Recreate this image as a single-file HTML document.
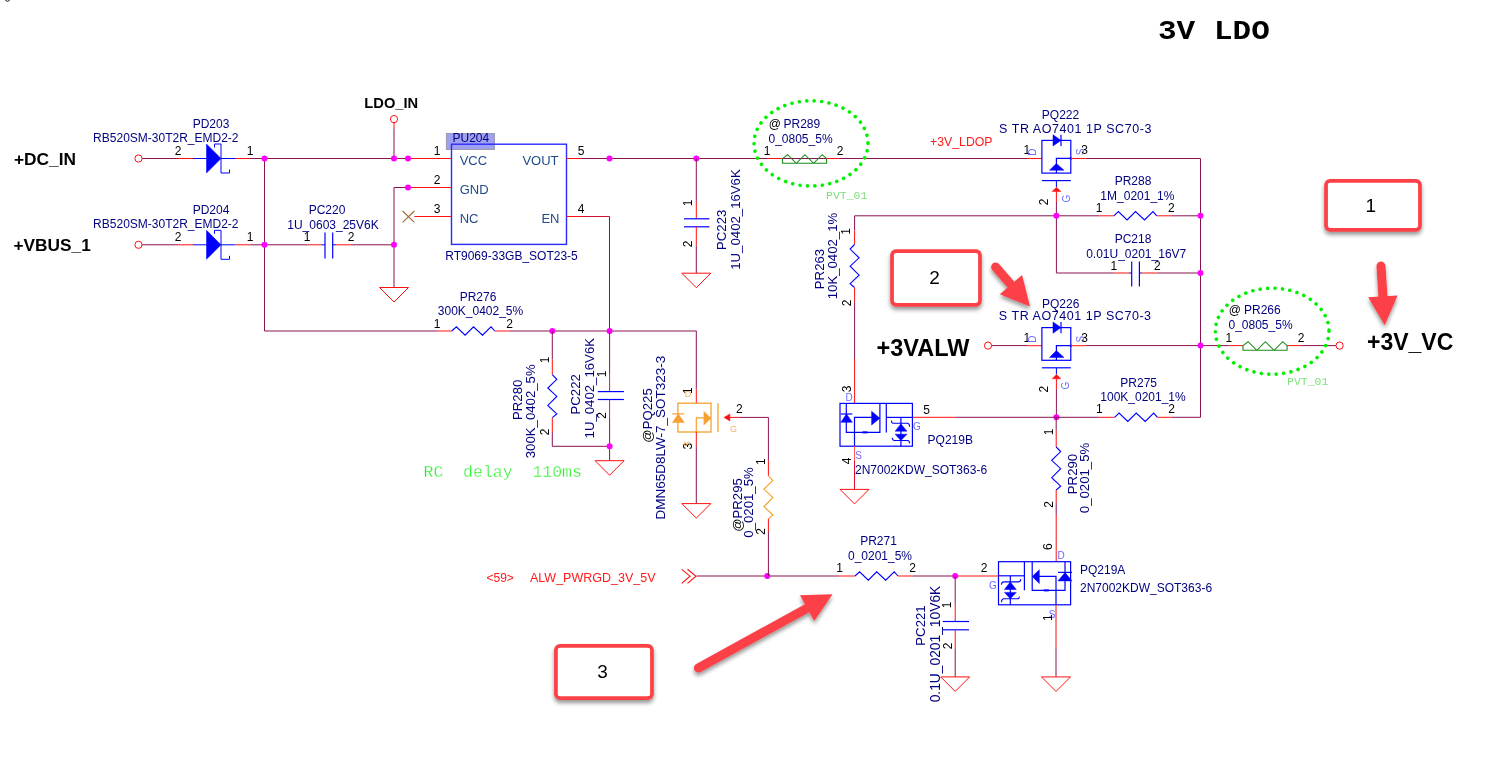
<!DOCTYPE html>
<html><head><meta charset="utf-8"><title>3V LDO</title>
<style>
html,body{margin:0;padding:0;background:#fff;}
body{width:1492px;height:762px;overflow:hidden;}
svg{display:block;font-family:"Liberation Sans",sans-serif;will-change:transform;}
</style></head><body>
<svg width="1492" height="762" viewBox="0 0 1492 762">
<defs><filter id="sh" x="-20%" y="-20%" width="140%" height="150%"><feGaussianBlur in="SourceAlpha" stdDeviation="2.2"/><feOffset dx="-0.5" dy="2.8" result="b"/><feComponentTransfer><feFuncA type="linear" slope="0.42"/></feComponentTransfer><feMerge><feMergeNode/><feMergeNode in="SourceGraphic"/></feMerge></filter></defs>
<rect width="1492" height="762" fill="#fff"/>
<text x="1158" y="39.4" font-size="27.2" fill="#000" text-anchor="start" font-weight="bold" font-family="Liberation Mono" transform="translate(1158 0) scale(1.14 1) translate(-1158 0)" xml:space="preserve">3V</text>
<text x="1214" y="39.4" font-size="27.2" fill="#000" text-anchor="start" font-weight="bold" font-family="Liberation Mono" transform="translate(1214 0) scale(1.14 1) translate(-1214 0)" xml:space="preserve">LDO</text>
<path d="M5.5,0 A2.2,2.2 0 0 0 9.5,0" stroke="#111" stroke-width="1" fill="none" />
<text x="14" y="165.1" font-size="17.3" fill="#000" text-anchor="start" font-weight="bold" xml:space="preserve">+DC_IN</text>
<text x="13.5" y="251.4" font-size="17.3" fill="#000" text-anchor="start" font-weight="bold" xml:space="preserve">+VBUS_1</text>
<text x="364.3" y="108.1" font-size="14.7" fill="#000" text-anchor="start" font-weight="bold" xml:space="preserve">LDO_IN</text>
<text x="876.5" y="355.5" font-size="23.5" fill="#000" text-anchor="start" font-weight="bold" xml:space="preserve">+3VALW</text>
<text x="1367" y="350" font-size="23" fill="#000" text-anchor="start" font-weight="bold" xml:space="preserve">+3V_VC</text>
<circle cx="138.5" cy="158.5" r="3.6" fill="#fff" stroke="#ff1010" stroke-width="1"/>
<line x1="142.1" y1="158.5" x2="178" y2="158.5" stroke="#8b1250" stroke-width="1"/>
<line x1="178" y1="158.5" x2="193" y2="158.5" stroke="#ff1010" stroke-width="1"/>
<line x1="193" y1="158.5" x2="206.5" y2="158.5" stroke="#0000ff" stroke-width="1"/>
<polygon points="206.5,144 206.5,173 221,158.5" fill="#0000ff" stroke="#0000ff" stroke-width="0.5"/>
<path d="M214.5,147.5 V144 H221 V173 H229.5 V169.5" stroke="#0000ff" stroke-width="1" fill="none" />
<line x1="221" y1="158.5" x2="235" y2="158.5" stroke="#0000ff" stroke-width="1"/>
<line x1="235" y1="158.5" x2="250" y2="158.5" stroke="#ff1010" stroke-width="1"/>
<line x1="250" y1="158.5" x2="264.5" y2="158.5" stroke="#8b1250" stroke-width="1"/>
<text x="178" y="155" font-size="12" fill="#000" text-anchor="middle" xml:space="preserve">2</text>
<text x="250" y="155" font-size="12" fill="#000" text-anchor="middle" xml:space="preserve">1</text>
<text x="211" y="128" font-size="12" fill="#000080" text-anchor="middle" xml:space="preserve">PD203</text>
<text x="238.5" y="142" font-size="12" fill="#000080" text-anchor="end" xml:space="preserve">RB520SM-30T2R_EMD2-2</text>
<circle cx="138.5" cy="244.8" r="3.6" fill="#fff" stroke="#ff1010" stroke-width="1"/>
<line x1="142.1" y1="244.8" x2="178" y2="244.8" stroke="#8b1250" stroke-width="1"/>
<line x1="178" y1="244.8" x2="193" y2="244.8" stroke="#ff1010" stroke-width="1"/>
<line x1="193" y1="244.8" x2="206.5" y2="244.8" stroke="#0000ff" stroke-width="1"/>
<polygon points="206.5,230.3 206.5,259.3 221,244.8" fill="#0000ff" stroke="#0000ff" stroke-width="0.5"/>
<path d="M214.5,233.8 V230.3 H221 V259.3 H229.5 V255.8" stroke="#0000ff" stroke-width="1" fill="none" />
<line x1="221" y1="244.8" x2="235" y2="244.8" stroke="#0000ff" stroke-width="1"/>
<line x1="235" y1="244.8" x2="250" y2="244.8" stroke="#ff1010" stroke-width="1"/>
<line x1="250" y1="244.8" x2="264.5" y2="244.8" stroke="#8b1250" stroke-width="1"/>
<text x="178" y="241.3" font-size="12" fill="#000" text-anchor="middle" xml:space="preserve">2</text>
<text x="250" y="241.3" font-size="12" fill="#000" text-anchor="middle" xml:space="preserve">1</text>
<text x="211" y="214.3" font-size="12" fill="#000080" text-anchor="middle" xml:space="preserve">PD204</text>
<text x="238.5" y="228.3" font-size="12" fill="#000080" text-anchor="end" xml:space="preserve">RB520SM-30T2R_EMD2-2</text>
<line x1="264.5" y1="158.5" x2="408" y2="158.5" stroke="#8b1250" stroke-width="1"/>
<line x1="264.5" y1="158.5" x2="264.5" y2="331" stroke="#8b1250" stroke-width="1"/>
<line x1="264.5" y1="244.8" x2="307" y2="244.8" stroke="#8b1250" stroke-width="1"/>
<circle cx="394" cy="119.1" r="3.6" fill="#fff" stroke="#ff1010" stroke-width="1"/>
<line x1="394" y1="122.7" x2="394" y2="129" stroke="#ff1010" stroke-width="1"/>
<line x1="394" y1="129" x2="394" y2="158.5" stroke="#8b1250" stroke-width="1"/>
<rect x="446.3" y="133.4" width="48.3" height="16.1" fill="#a0a0f0" stroke="#9090a0" stroke-width="0.8"/>
<rect x="451.5" y="144.2" width="115" height="100.2" fill="none" stroke="#2a2aff" stroke-width="1.4"/>
<text x="452.5" y="141.7" font-size="12" fill="#000080" text-anchor="start" xml:space="preserve">PU204</text>
<text x="459.7" y="165" font-size="13" fill="#1f4a8a" text-anchor="start" xml:space="preserve">VCC</text>
<text x="459.7" y="194" font-size="13" fill="#1f4a8a" text-anchor="start" xml:space="preserve">GND</text>
<text x="459.7" y="223" font-size="13" fill="#1f4a8a" text-anchor="start" xml:space="preserve">NC</text>
<text x="558.5" y="165" font-size="13" fill="#1f4a8a" text-anchor="end" xml:space="preserve">VOUT</text>
<text x="559.5" y="223" font-size="13" fill="#1f4a8a" text-anchor="end" xml:space="preserve">EN</text>
<text x="511.5" y="260" font-size="12" fill="#000080" text-anchor="middle" xml:space="preserve">RT9069-33GB_SOT23-5</text>
<line x1="408" y1="158.5" x2="451.5" y2="158.5" stroke="#ff1010" stroke-width="1"/>
<line x1="394" y1="187.5" x2="408" y2="187.5" stroke="#8b1250" stroke-width="1"/>
<line x1="408" y1="187.5" x2="451.5" y2="187.5" stroke="#ff1010" stroke-width="1"/>
<line x1="394" y1="187.5" x2="394" y2="287.5" stroke="#8b1250" stroke-width="1"/>
<line x1="414.4" y1="216.5" x2="451.5" y2="216.5" stroke="#ff1010" stroke-width="1"/>
<path d="M402.6,211 L414.4,222.4 M402.6,222.4 L414.4,211" stroke="#a06a30" stroke-width="1.1" fill="none" />
<line x1="566.5" y1="158.5" x2="581" y2="158.5" stroke="#ff1010" stroke-width="1"/>
<line x1="581" y1="158.5" x2="1027" y2="158.5" stroke="#8b1250" stroke-width="1"/>
<line x1="566.5" y1="216.5" x2="582" y2="216.5" stroke="#ff1010" stroke-width="1"/>
<line x1="582" y1="216.5" x2="609.5" y2="216.5" stroke="#d01030" stroke-width="1"/>
<line x1="609.5" y1="216.5" x2="609.5" y2="331" stroke="#8b1250" stroke-width="1"/>
<text x="437" y="154.5" font-size="12" fill="#000" text-anchor="middle" xml:space="preserve">1</text>
<text x="437" y="183.5" font-size="12" fill="#000" text-anchor="middle" xml:space="preserve">2</text>
<text x="437" y="212.5" font-size="12" fill="#000" text-anchor="middle" xml:space="preserve">3</text>
<text x="581" y="154.5" font-size="12" fill="#000" text-anchor="middle" xml:space="preserve">5</text>
<text x="581" y="212.5" font-size="12" fill="#000" text-anchor="middle" xml:space="preserve">4</text>
<circle cx="264.5" cy="158.5" r="3" fill="#ff00ff"/>
<circle cx="394" cy="158.5" r="3" fill="#ff00ff"/>
<circle cx="408" cy="158.5" r="3" fill="#ff00ff"/>
<circle cx="408" cy="187.5" r="3" fill="#ff00ff"/>
<polyline points="379.5,287.5 408.5,287.5 394,302 379.5,287.5" stroke="#ff1010" stroke-width="1" fill="none" stroke-linejoin="miter"/>
<line x1="307" y1="244.8" x2="322" y2="244.8" stroke="#ff1010" stroke-width="1"/>
<line x1="322" y1="244.8" x2="325" y2="244.8" stroke="#0000ff" stroke-width="1"/>
<line x1="325" y1="232.4" x2="325" y2="258.4" stroke="#0000ff" stroke-width="1.2"/>
<line x1="332.7" y1="232.4" x2="332.7" y2="258.4" stroke="#0000ff" stroke-width="1.2"/>
<line x1="332.7" y1="244.8" x2="336" y2="244.8" stroke="#0000ff" stroke-width="1"/>
<line x1="336" y1="244.8" x2="351" y2="244.8" stroke="#ff1010" stroke-width="1"/>
<line x1="351" y1="244.8" x2="394" y2="244.8" stroke="#8b1250" stroke-width="1"/>
<text x="307" y="240.8" font-size="12" fill="#000" text-anchor="middle" xml:space="preserve">1</text>
<text x="351" y="240.8" font-size="12" fill="#000" text-anchor="middle" xml:space="preserve">2</text>
<text x="327" y="213.7" font-size="12" fill="#000080" text-anchor="middle" xml:space="preserve">PC220</text>
<text x="333" y="228.5" font-size="12" fill="#000080" text-anchor="middle" xml:space="preserve">1U_0603_25V6K</text>
<circle cx="264.5" cy="244.8" r="3" fill="#ff00ff"/>
<circle cx="394" cy="244.8" r="3" fill="#ff00ff"/>
<line x1="264.5" y1="331" x2="437" y2="331" stroke="#8b1250" stroke-width="1"/>
<line x1="437" y1="331" x2="451.8" y2="331" stroke="#ff1010" stroke-width="1"/>
<polyline points="451.8,331 456.4,326.8 465.1,335.2 473.5,326.8 482.5,335.2 491,326.8 494.8,331" stroke="#0000ff" stroke-width="1.1" fill="none" stroke-linejoin="miter"/>
<line x1="494.8" y1="331" x2="509.6" y2="331" stroke="#ff1010" stroke-width="1"/>
<line x1="509.6" y1="331" x2="696.3" y2="331" stroke="#8b1250" stroke-width="1"/>
<text x="437" y="327.5" font-size="12" fill="#000" text-anchor="middle" xml:space="preserve">1</text>
<text x="509.6" y="327.5" font-size="12" fill="#000" text-anchor="middle" xml:space="preserve">2</text>
<text x="478" y="300.5" font-size="12" fill="#000080" text-anchor="middle" xml:space="preserve">PR276</text>
<text x="480.5" y="315" font-size="12" fill="#000080" text-anchor="middle" xml:space="preserve">300K_0402_5%</text>
<circle cx="552.3" cy="331" r="3" fill="#ff00ff"/>
<circle cx="609.6" cy="331" r="3" fill="#ff00ff"/>
<line x1="552.3" y1="331" x2="552.3" y2="359.4" stroke="#8b1250" stroke-width="1"/>
<line x1="552.3" y1="359.4" x2="552.3" y2="374.7" stroke="#ff1010" stroke-width="1"/>
<polyline points="552.3,374.7 556.8,379.3 547.8,388 556.8,396.4 547.8,405.4 556.8,413.9 552.3,417.7" stroke="#0000ff" stroke-width="1.1" fill="none" stroke-linejoin="miter"/>
<line x1="552.3" y1="417.7" x2="552.3" y2="432" stroke="#ff1010" stroke-width="1"/>
<line x1="552.3" y1="432" x2="552.3" y2="446.3" stroke="#8b1250" stroke-width="1"/>
<line x1="552.3" y1="446.3" x2="609.6" y2="446.3" stroke="#8b1250" stroke-width="1"/>
<text x="549" y="360" font-size="12" fill="#000" text-anchor="middle" transform="rotate(-90 549 360)" xml:space="preserve">1</text>
<text x="549" y="432" font-size="12" fill="#000" text-anchor="middle" transform="rotate(-90 549 432)" xml:space="preserve">2</text>
<text x="522.5" y="399.8" font-size="13.2" fill="#000080" text-anchor="middle" transform="rotate(-90 522.5 399.8)" xml:space="preserve">PR280</text>
<text x="534.8" y="411.3" font-size="13.2" fill="#000080" text-anchor="middle" transform="rotate(-90 534.8 411.3)" xml:space="preserve">300K_0402_5%</text>
<line x1="609.6" y1="331" x2="609.6" y2="374.1" stroke="#8b1250" stroke-width="1"/>
<line x1="609.6" y1="374.1" x2="609.6" y2="391.6" stroke="#ff1010" stroke-width="1"/>
<line x1="597.8" y1="391.6" x2="623.9" y2="391.6" stroke="#0000ff" stroke-width="1.2"/>
<line x1="597.8" y1="399.5" x2="623.9" y2="399.5" stroke="#0000ff" stroke-width="1.2"/>
<line x1="609.6" y1="399.5" x2="609.6" y2="417.3" stroke="#ff1010" stroke-width="1"/>
<line x1="609.6" y1="417.3" x2="609.6" y2="460.7" stroke="#8b1250" stroke-width="1"/>
<text x="606" y="374" font-size="12" fill="#000" text-anchor="middle" transform="rotate(-90 606 374)" xml:space="preserve">1</text>
<text x="606" y="415.4" font-size="12" fill="#000" text-anchor="middle" transform="rotate(-90 606 415.4)" xml:space="preserve">2</text>
<text x="579.8" y="394.3" font-size="13.2" fill="#000080" text-anchor="middle" transform="rotate(-90 579.8 394.3)" xml:space="preserve">PC222</text>
<text x="593.6" y="388.2" font-size="13.2" fill="#000080" text-anchor="middle" transform="rotate(-90 593.6 388.2)" xml:space="preserve">1U_0402_16V6K</text>
<circle cx="609.6" cy="446.3" r="3" fill="#ff00ff"/>
<polyline points="595.1,460.7 624.1,460.7 609.6,475.2 595.1,460.7" stroke="#ff1010" stroke-width="1" fill="none" stroke-linejoin="miter"/>
<text x="423.5" y="476.5" font-size="16.5" fill="#22f022" text-anchor="start" font-family="Liberation Mono" stroke="#fff" stroke-width="0.35" xml:space="preserve">RC  delay  110ms</text>
<circle cx="609.5" cy="158.5" r="3" fill="#ff00ff"/>
<circle cx="696.3" cy="158.5" r="3" fill="#ff00ff"/>
<line x1="696.3" y1="158.5" x2="696.3" y2="201.6" stroke="#8b1250" stroke-width="1"/>
<line x1="696.3" y1="201.6" x2="696.3" y2="218.8" stroke="#ff1010" stroke-width="1"/>
<line x1="684" y1="218.8" x2="709.5" y2="218.8" stroke="#0000ff" stroke-width="1.2"/>
<line x1="684" y1="226.8" x2="709.5" y2="226.8" stroke="#0000ff" stroke-width="1.2"/>
<line x1="696.3" y1="226.8" x2="696.3" y2="245.6" stroke="#ff1010" stroke-width="1"/>
<line x1="696.3" y1="245.6" x2="696.3" y2="273.2" stroke="#8b1250" stroke-width="1"/>
<polyline points="681.8,273.2 710.8,273.2 696.3,287.7 681.8,273.2" stroke="#ff1010" stroke-width="1" fill="none" stroke-linejoin="miter"/>
<text x="692" y="203" font-size="12" fill="#000" text-anchor="middle" transform="rotate(-90 692 203)" xml:space="preserve">1</text>
<text x="692" y="244" font-size="12" fill="#000" text-anchor="middle" transform="rotate(-90 692 244)" xml:space="preserve">2</text>
<text x="726" y="229.8" font-size="13.2" fill="#000080" text-anchor="middle" transform="rotate(-90 726 229.8)" xml:space="preserve">PC223</text>
<text x="739.5" y="219.5" font-size="13.2" fill="#000080" text-anchor="middle" transform="rotate(-90 739.5 219.5)" xml:space="preserve">1U_0402_16V6K</text>
<line x1="767.3" y1="158.5" x2="782.5" y2="158.5" stroke="#ff1010" stroke-width="1"/>
<path d="M782.5,158.6 V163.3 H826.6 V158.6 M782.5,158.6 L787.6,154.7 L796.3,163.3 L804.9,154.7 L813.6,163.3 L822.2,154.7 L826.6,158.6" stroke="#1f8a1f" stroke-width="1.1" fill="none" />
<line x1="826.6" y1="158.5" x2="840" y2="158.5" stroke="#ff1010" stroke-width="1"/>
<line x1="840" y1="158.5" x2="1027" y2="158.5" stroke="#8b1250" stroke-width="1"/>
<text x="767" y="154.5" font-size="12" fill="#000" text-anchor="middle" xml:space="preserve">1</text>
<text x="840" y="154.5" font-size="12" fill="#000" text-anchor="middle" xml:space="preserve">2</text>
<text x="768.8" y="127.8" font-size="12" fill="#000" text-anchor="start" xml:space="preserve">@</text>
<text x="783.5" y="127.8" font-size="12" fill="#000080" text-anchor="start" xml:space="preserve">PR289</text>
<text x="768.5" y="142.5" font-size="12" fill="#000080" text-anchor="start" xml:space="preserve">0_0805_5%</text>
<ellipse cx="811" cy="143.4" rx="57" ry="42.6" fill="none" stroke="#00f000" stroke-width="3.6" stroke-dasharray="0.01 7.45" stroke-linecap="round"/>
<text x="826" y="199" font-size="11.5" fill="#7de07d" text-anchor="start" font-family="Liberation Mono" xml:space="preserve">PVT_01</text>
<text x="930" y="145.8" font-size="12.3" fill="#ff1a1a" text-anchor="start" xml:space="preserve">+3V_LDOP</text>
<line x1="1027" y1="158.5" x2="1041.9" y2="158.5" stroke="#ff1010" stroke-width="1"/>
<rect x="1041.9" y="140.4" width="28.9" height="32.7" fill="none" stroke="#0000ff" stroke-width="1.2"/>
<polygon points="1053,134.7 1053,146 1061,140.4" fill="#0000ff" stroke="#0000ff" stroke-width="0.5"/>
<line x1="1061" y1="134.7" x2="1061" y2="146" stroke="#0000ff" stroke-width="1.2"/>
<path d="M1070.8,158.4 H1056.4 V173.1" stroke="#0000ff" stroke-width="1.2" fill="none" />
<polygon points="1049.5,170.2 1064,170.2 1056.4,163.4" fill="#0000ff" stroke="#0000ff" stroke-width="0.5"/>
<circle cx="1070.8" cy="158.4" r="1.2" fill="#0000ff"/>
<line x1="1041.9" y1="180.6" x2="1070.8" y2="180.6" stroke="#0000ff" stroke-width="1.2"/>
<line x1="1056.4" y1="180.6" x2="1056.4" y2="187.3" stroke="#0000ff" stroke-width="1"/>
<polygon points="1052.2,191.5 1060.9,191.5 1056.4,187.3" fill="#ff1010" stroke="#ff1010" stroke-width="0.5"/>
<line x1="1056.4" y1="191.5" x2="1056.4" y2="202" stroke="#ff1010" stroke-width="1"/>
<line x1="1070.8" y1="158.5" x2="1085.7" y2="158.5" stroke="#ff1010" stroke-width="1"/>
<text x="1048" y="202" font-size="12" fill="#000" text-anchor="middle" transform="rotate(-90 1048 202)" xml:space="preserve">2</text>
<text x="1026.8" y="154.4" font-size="12" fill="#000" text-anchor="middle" xml:space="preserve">1</text>
<text x="1084.7" y="154.4" font-size="12" fill="#000" text-anchor="middle" xml:space="preserve">3</text>
<text x="1036.3" y="152" font-size="10" fill="#6a6aff" text-anchor="middle" transform="rotate(-90 1036.3 152)" xml:space="preserve">D</text>
<text x="1084" y="152" font-size="10" fill="#6a6aff" text-anchor="middle" transform="rotate(-90 1084 152)" xml:space="preserve">S</text>
<text x="1069.5" y="198.5" font-size="10" fill="#6a6aff" text-anchor="middle" transform="rotate(-90 1069.5 198.5)" xml:space="preserve">G</text>
<text x="1060.5" y="119.3" font-size="12" fill="#000080" text-anchor="middle" xml:space="preserve">PQ222</text>
<text x="1075.5" y="132.8" font-size="12.5" fill="#000080" text-anchor="middle" letter-spacing="0.55" xml:space="preserve">S TR AO7401 1P SC70-3</text>
<line x1="1027" y1="345.7" x2="1041.9" y2="345.7" stroke="#ff1010" stroke-width="1"/>
<rect x="1041.9" y="327.6" width="28.9" height="32.7" fill="none" stroke="#0000ff" stroke-width="1.2"/>
<polygon points="1053,321.9 1053,333.2 1061,327.6" fill="#0000ff" stroke="#0000ff" stroke-width="0.5"/>
<line x1="1061" y1="321.9" x2="1061" y2="333.2" stroke="#0000ff" stroke-width="1.2"/>
<path d="M1070.8,345.6 H1056.4 V360.3" stroke="#0000ff" stroke-width="1.2" fill="none" />
<polygon points="1049.5,357.4 1064,357.4 1056.4,350.6" fill="#0000ff" stroke="#0000ff" stroke-width="0.5"/>
<circle cx="1070.8" cy="345.6" r="1.2" fill="#0000ff"/>
<line x1="1041.9" y1="367.8" x2="1070.8" y2="367.8" stroke="#0000ff" stroke-width="1.2"/>
<line x1="1056.4" y1="367.8" x2="1056.4" y2="374.5" stroke="#0000ff" stroke-width="1"/>
<polygon points="1052.2,378.7 1060.9,378.7 1056.4,374.5" fill="#ff1010" stroke="#ff1010" stroke-width="0.5"/>
<line x1="1056.4" y1="378.7" x2="1056.4" y2="389.2" stroke="#ff1010" stroke-width="1"/>
<line x1="1070.8" y1="345.7" x2="1085.7" y2="345.7" stroke="#ff1010" stroke-width="1"/>
<text x="1048" y="389.2" font-size="12" fill="#000" text-anchor="middle" transform="rotate(-90 1048 389.2)" xml:space="preserve">2</text>
<text x="1026.8" y="341.6" font-size="12" fill="#000" text-anchor="middle" xml:space="preserve">1</text>
<text x="1084.7" y="341.6" font-size="12" fill="#000" text-anchor="middle" xml:space="preserve">3</text>
<text x="1036.3" y="339.2" font-size="10" fill="#6a6aff" text-anchor="middle" transform="rotate(-90 1036.3 339.2)" xml:space="preserve">D</text>
<text x="1084" y="339.2" font-size="10" fill="#6a6aff" text-anchor="middle" transform="rotate(-90 1084 339.2)" xml:space="preserve">S</text>
<text x="1069.5" y="385.7" font-size="10" fill="#6a6aff" text-anchor="middle" transform="rotate(-90 1069.5 385.7)" xml:space="preserve">G</text>
<text x="1060.7" y="308" font-size="12" fill="#000080" text-anchor="middle" xml:space="preserve">PQ226</text>
<text x="1075.2" y="320.2" font-size="12.5" fill="#000080" text-anchor="middle" letter-spacing="0.55" xml:space="preserve">S TR AO7401 1P SC70-3</text>
<line x1="1085.7" y1="158.5" x2="1200.5" y2="158.5" stroke="#8b1250" stroke-width="1"/>
<line x1="1200.5" y1="158.5" x2="1200.5" y2="417.3" stroke="#8b1250" stroke-width="1"/>
<line x1="854.6" y1="215.8" x2="1099.2" y2="215.8" stroke="#8b1250" stroke-width="1"/>
<line x1="1056.4" y1="202" x2="1056.4" y2="273" stroke="#8b1250" stroke-width="1"/>
<line x1="1099.2" y1="215.8" x2="1113.8" y2="215.8" stroke="#ff1010" stroke-width="1"/>
<polyline points="1113.8,215.8 1118.4,211.6 1127.1,220 1135.5,211.6 1144.5,220 1153,211.6 1156.8,215.8" stroke="#0000ff" stroke-width="1.1" fill="none" stroke-linejoin="miter"/>
<line x1="1156.8" y1="215.8" x2="1171.4" y2="215.8" stroke="#ff1010" stroke-width="1"/>
<line x1="1171.4" y1="215.8" x2="1200.5" y2="215.8" stroke="#8b1250" stroke-width="1"/>
<text x="1099.2" y="211.5" font-size="12" fill="#000" text-anchor="middle" xml:space="preserve">1</text>
<text x="1171.4" y="211.5" font-size="12" fill="#000" text-anchor="middle" xml:space="preserve">2</text>
<text x="1133" y="185" font-size="12" fill="#000080" text-anchor="middle" xml:space="preserve">PR288</text>
<text x="1137.4" y="200" font-size="12" fill="#000080" text-anchor="middle" xml:space="preserve">1M_0201_1%</text>
<circle cx="1056.4" cy="215.8" r="3" fill="#ff00ff"/>
<circle cx="1200.5" cy="215.8" r="3" fill="#ff00ff"/>
<line x1="1056.4" y1="273" x2="1113.8" y2="273" stroke="#8b1250" stroke-width="1"/>
<line x1="1113.8" y1="273" x2="1129" y2="273" stroke="#ff1010" stroke-width="1"/>
<line x1="1129" y1="273" x2="1131.7" y2="273" stroke="#0000ff" stroke-width="1"/>
<line x1="1131.7" y1="261.4" x2="1131.7" y2="286.5" stroke="#0000ff" stroke-width="1.2"/>
<line x1="1139.4" y1="261.4" x2="1139.4" y2="286.5" stroke="#0000ff" stroke-width="1.2"/>
<line x1="1139.4" y1="273" x2="1142" y2="273" stroke="#0000ff" stroke-width="1"/>
<line x1="1142" y1="273" x2="1157.3" y2="273" stroke="#ff1010" stroke-width="1"/>
<line x1="1157.3" y1="273" x2="1200.5" y2="273" stroke="#8b1250" stroke-width="1"/>
<text x="1113.8" y="269.6" font-size="12" fill="#000" text-anchor="middle" xml:space="preserve">1</text>
<text x="1157.3" y="269.6" font-size="12" fill="#000" text-anchor="middle" xml:space="preserve">2</text>
<text x="1133" y="243" font-size="12" fill="#000080" text-anchor="middle" xml:space="preserve">PC218</text>
<text x="1136.2" y="257.6" font-size="12" fill="#000080" text-anchor="middle" xml:space="preserve">0.01U_0201_16V7</text>
<circle cx="1200.5" cy="273" r="3" fill="#ff00ff"/>
<circle cx="988" cy="345.6" r="3.6" fill="#fff" stroke="#ff1010" stroke-width="1"/>
<line x1="991.6" y1="345.6" x2="1027" y2="345.6" stroke="#8b1250" stroke-width="1"/>
<line x1="1085.7" y1="345.6" x2="1228.8" y2="345.6" stroke="#8b1250" stroke-width="1"/>
<circle cx="1200.5" cy="345.6" r="3" fill="#ff00ff"/>
<line x1="1056.4" y1="389.2" x2="1056.4" y2="417.3" stroke="#8b1250" stroke-width="1"/>
<circle cx="1056.4" cy="417.3" r="3" fill="#ff00ff"/>
<line x1="1228.8" y1="345.6" x2="1243" y2="345.6" stroke="#ff1010" stroke-width="1"/>
<path d="M1243,345.6 V350.3 H1287.1 V345.6 M1243,345.6 L1248.1,341.7 L1256.8,350.3 L1265.4,341.7 L1274.1,350.3 L1282.7,341.7 L1287.1,345.6" stroke="#1f8a1f" stroke-width="1.1" fill="none" />
<line x1="1287" y1="345.6" x2="1301.2" y2="345.6" stroke="#ff1010" stroke-width="1"/>
<line x1="1301.2" y1="345.6" x2="1336" y2="345.6" stroke="#8b1250" stroke-width="1"/>
<circle cx="1339.6" cy="345.6" r="3.6" fill="#fff" stroke="#ff1010" stroke-width="1"/>
<text x="1228.8" y="341.5" font-size="12" fill="#000" text-anchor="middle" xml:space="preserve">1</text>
<text x="1301.2" y="341.5" font-size="12" fill="#000" text-anchor="middle" xml:space="preserve">2</text>
<text x="1228.8" y="314.3" font-size="12" fill="#000" text-anchor="start" xml:space="preserve">@</text>
<text x="1244" y="314.3" font-size="12" fill="#000080" text-anchor="start" xml:space="preserve">PR266</text>
<text x="1228.5" y="329.2" font-size="12" fill="#000080" text-anchor="start" xml:space="preserve">0_0805_5%</text>
<ellipse cx="1272.2" cy="331.2" rx="56.8" ry="43" fill="none" stroke="#00f000" stroke-width="3.6" stroke-dasharray="0.01 7.45" stroke-linecap="round"/>
<text x="1287" y="385.3" font-size="11.5" fill="#7de07d" text-anchor="start" font-family="Liberation Mono" xml:space="preserve">PVT_01</text>
<line x1="912.4" y1="417.3" x2="956" y2="417.3" stroke="#ff1010" stroke-width="1"/>
<line x1="956" y1="417.3" x2="1099.3" y2="417.3" stroke="#8b1250" stroke-width="1"/>
<line x1="1099.3" y1="417.3" x2="1114.5" y2="417.3" stroke="#ff1010" stroke-width="1"/>
<polyline points="1114.5,417.3 1119.1,413.1 1127.8,421.5 1136.2,413.1 1145.2,421.5 1153.7,413.1 1157.5,417.3" stroke="#0000ff" stroke-width="1.1" fill="none" stroke-linejoin="miter"/>
<line x1="1157.5" y1="417.3" x2="1171.7" y2="417.3" stroke="#ff1010" stroke-width="1"/>
<line x1="1171.7" y1="417.3" x2="1200.5" y2="417.3" stroke="#8b1250" stroke-width="1"/>
<text x="1099.3" y="413.3" font-size="12" fill="#000" text-anchor="middle" xml:space="preserve">1</text>
<text x="1171.7" y="413.3" font-size="12" fill="#000" text-anchor="middle" xml:space="preserve">2</text>
<text x="1138.7" y="386.5" font-size="12" fill="#000080" text-anchor="middle" xml:space="preserve">PR275</text>
<text x="1143" y="400.7" font-size="12" fill="#000080" text-anchor="middle" xml:space="preserve">100K_0201_1%</text>
<text x="926.5" y="413.7" font-size="12" fill="#000" text-anchor="middle" xml:space="preserve">5</text>
<line x1="854.6" y1="215.8" x2="854.6" y2="230.3" stroke="#8b1250" stroke-width="1"/>
<line x1="854.6" y1="230.3" x2="854.6" y2="244.5" stroke="#ff1010" stroke-width="1"/>
<polyline points="854.6,244.5 850.1,249.1 859.1,257.8 850.1,266.2 859.1,275.2 850.1,283.7 854.6,287.5" stroke="#0000ff" stroke-width="1.1" fill="none" stroke-linejoin="miter"/>
<line x1="854.6" y1="287.5" x2="854.6" y2="302.3" stroke="#ff1010" stroke-width="1"/>
<line x1="854.6" y1="302.3" x2="854.6" y2="359" stroke="#8b1250" stroke-width="1"/>
<line x1="854.6" y1="359" x2="854.6" y2="403.4" stroke="#ff1010" stroke-width="1"/>
<text x="850.5" y="231.4" font-size="12" fill="#000" text-anchor="middle" transform="rotate(-90 850.5 231.4)" xml:space="preserve">1</text>
<text x="850.5" y="303" font-size="12" fill="#000" text-anchor="middle" transform="rotate(-90 850.5 303)" xml:space="preserve">2</text>
<text x="851" y="389" font-size="12" fill="#000" text-anchor="middle" transform="rotate(-90 851 389)" xml:space="preserve">3</text>
<text x="823.8" y="269" font-size="13.2" fill="#000080" text-anchor="middle" transform="rotate(-90 823.8 269)" xml:space="preserve">PR263</text>
<text x="837" y="256" font-size="13.2" fill="#000080" text-anchor="middle" transform="rotate(-90 837 256)" xml:space="preserve">10K_0402_1%</text>
<rect x="840" y="403.4" width="72.4" height="42.8" fill="none" stroke="#0000ff" stroke-width="1.2"/>
<path d="M846.3,403.4 V432.4 H879.9 V403.4" stroke="#0000ff" stroke-width="1.2" fill="none" />
<line x1="840.8" y1="414" x2="852.3" y2="414" stroke="#0000ff" stroke-width="1.2"/>
<polygon points="840.8,422.3 852.3,422.3 846.5,414" fill="#0000ff" stroke="#0000ff" stroke-width="0.5"/>
<path d="M854.5,446.2 V417.4 H872" stroke="#0000ff" stroke-width="1.2" fill="none" />
<polygon points="871.6,411.3 871.6,425.1 879.9,418.2" fill="#0000ff" stroke="#0000ff" stroke-width="0.5"/>
<line x1="886.3" y1="403.4" x2="886.3" y2="432.4" stroke="#0000ff" stroke-width="1.2"/>
<line x1="886.3" y1="417.4" x2="912.4" y2="417.4" stroke="#0000ff" stroke-width="1.2"/>
<line x1="900.9" y1="417.5" x2="900.9" y2="446.6" stroke="#0000ff" stroke-width="1.2"/>
<path d="M891.4,420.5 Q891.6,423.2 893,423.2 H907.5 Q909.4,423.2 909.6,426.7" stroke="#0000ff" stroke-width="1.1" fill="none" />
<polygon points="895.1,431.2 907,431.2 900.9,423.9" fill="#0000ff" stroke="#0000ff" stroke-width="0.5"/>
<polygon points="895.1,434.2 907,434.2 900.9,440.5" fill="#0000ff" stroke="#0000ff" stroke-width="0.5"/>
<path d="M892.3,437.8 Q892.6,440.5 894.5,440.5 H907.5 Q909.4,440.5 909.6,443.4" stroke="#0000ff" stroke-width="1.1" fill="none" />
<line x1="862.5" y1="432.4" x2="867.5" y2="432.4" stroke="#0000ff" stroke-width="2"/>
<text x="849" y="400.5" font-size="10" fill="#6a6aff" text-anchor="middle" xml:space="preserve">D</text>
<text x="917" y="429.5" font-size="10" fill="#6a6aff" text-anchor="middle" xml:space="preserve">G</text>
<text x="858.5" y="458.5" font-size="10" fill="#6a6aff" text-anchor="middle" xml:space="preserve">S</text>
<text x="927.6" y="444.4" font-size="12" fill="#000080" text-anchor="start" xml:space="preserve">PQ219B</text>
<text x="855" y="474" font-size="12" fill="#000080" text-anchor="start" xml:space="preserve">2N7002KDW_SOT363-6</text>
<line x1="854.5" y1="446.2" x2="854.5" y2="461" stroke="#ff5a5a" stroke-width="1"/>
<line x1="854.5" y1="461" x2="854.5" y2="489.4" stroke="#e01030" stroke-width="1"/>
<text x="851" y="461" font-size="12" fill="#000" text-anchor="middle" transform="rotate(-90 851 461)" xml:space="preserve">4</text>
<polyline points="840,489.4 869,489.4 854.5,503.9 840,489.4" stroke="#ff1010" stroke-width="1" fill="none" stroke-linejoin="miter"/>
<line x1="1056.2" y1="417.3" x2="1056.2" y2="430.5" stroke="#8b1250" stroke-width="1"/>
<line x1="1056.2" y1="430.5" x2="1056.2" y2="447" stroke="#ff1010" stroke-width="1"/>
<polyline points="1056.2,447 1060.7,451.6 1051.7,460.3 1060.7,468.7 1051.7,477.7 1060.7,486.2 1056.2,490" stroke="#0000ff" stroke-width="1.1" fill="none" stroke-linejoin="miter"/>
<line x1="1056.2" y1="490" x2="1056.2" y2="503" stroke="#ff1010" stroke-width="1"/>
<line x1="1056.2" y1="503" x2="1056.2" y2="515" stroke="#8b1250" stroke-width="1"/>
<line x1="1056.2" y1="515" x2="1056.2" y2="561.7" stroke="#ff1010" stroke-width="1"/>
<text x="1052.5" y="432" font-size="12" fill="#000" text-anchor="middle" transform="rotate(-90 1052.5 432)" xml:space="preserve">1</text>
<text x="1052.5" y="504.5" font-size="12" fill="#000" text-anchor="middle" transform="rotate(-90 1052.5 504.5)" xml:space="preserve">2</text>
<text x="1077" y="474" font-size="13.2" fill="#000080" text-anchor="middle" transform="rotate(-90 1077 474)" xml:space="preserve">PR290</text>
<text x="1089" y="478" font-size="13.2" fill="#000080" text-anchor="middle" transform="rotate(-90 1089 478)" xml:space="preserve">0_0201_5%</text>
<text x="1052.5" y="546.7" font-size="12" fill="#000" text-anchor="middle" transform="rotate(-90 1052.5 546.7)" xml:space="preserve">6</text>
<rect x="998.5" y="561.7" width="72.1" height="43.1" fill="none" stroke="#0000ff" stroke-width="1.2"/>
<line x1="998.5" y1="575.8" x2="1024.4" y2="575.8" stroke="#0000ff" stroke-width="1.2"/>
<line x1="1010.3" y1="575.8" x2="1010.3" y2="604.8" stroke="#0000ff" stroke-width="1.2"/>
<path d="M1001.4,584.6 Q1001.8,581.9 1003.7,581.9 H1018.4 Q1020.4,581.9 1020.8,579.2" stroke="#0000ff" stroke-width="1.1" fill="none" />
<polygon points="1004.4,589.5 1016.3,589.5 1010.3,581.9" fill="#0000ff" stroke="#0000ff" stroke-width="0.5"/>
<polygon points="1004.4,592.4 1016.3,592.4 1010.3,598.7" fill="#0000ff" stroke="#0000ff" stroke-width="0.5"/>
<path d="M1001.4,602.3 Q1001.8,598.7 1003.7,598.7 H1018 Q1019.2,598.7 1019.4,596.5" stroke="#0000ff" stroke-width="1.1" fill="none" />
<line x1="1043.8" y1="590.4" x2="1048.8" y2="590.4" stroke="#0000ff" stroke-width="2"/>
<line x1="1024.4" y1="561.7" x2="1024.4" y2="590.3" stroke="#0000ff" stroke-width="1.2"/>
<path d="M1032.2,561.7 V590.3 H1065 V561.7" stroke="#0000ff" stroke-width="1.2" fill="none" />
<polygon points="1039.3,569.7 1039.3,583.6 1032.2,576.4" fill="#0000ff" stroke="#0000ff" stroke-width="0.5"/>
<path d="M1039,576.4 H1056 V604.8" stroke="#0000ff" stroke-width="1.2" fill="none" />
<line x1="1058" y1="572.4" x2="1072" y2="572.4" stroke="#0000ff" stroke-width="1.2"/>
<polygon points="1058,580.9 1072,580.9 1065,572.4" fill="#0000ff" stroke="#0000ff" stroke-width="0.5"/>
<line x1="1056" y1="604.8" x2="1056" y2="648.3" stroke="#ff1010" stroke-width="1"/>
<line x1="1056" y1="648.3" x2="1056" y2="676.9" stroke="#8b1250" stroke-width="1"/>
<polyline points="1041.5,676.9 1070.5,676.9 1056,691.4 1041.5,676.9" stroke="#ff1010" stroke-width="1" fill="none" stroke-linejoin="miter"/>
<text x="1061" y="559" font-size="10" fill="#6a6aff" text-anchor="middle" xml:space="preserve">D</text>
<text x="1052" y="617.5" font-size="10" fill="#6a6aff" text-anchor="middle" xml:space="preserve">S</text>
<text x="993" y="589" font-size="10" fill="#6a6aff" text-anchor="middle" xml:space="preserve">G</text>
<text x="1052.5" y="617.7" font-size="12" fill="#000" text-anchor="middle" transform="rotate(-90 1052.5 617.7)" xml:space="preserve">1</text>
<text x="1080" y="574" font-size="12" fill="#000080" text-anchor="start" xml:space="preserve">PQ219A</text>
<text x="1080" y="591.5" font-size="12" fill="#000080" text-anchor="start" xml:space="preserve">2N7002KDW_SOT363-6</text>
<line x1="696.6" y1="576" x2="839.5" y2="576" stroke="#8b1250" stroke-width="1"/>
<line x1="839.5" y1="576" x2="855" y2="576" stroke="#ff1010" stroke-width="1"/>
<polyline points="855,576 859.6,571.8 868.3,580.2 876.7,571.8 885.7,580.2 894.2,571.8 898,576" stroke="#0000ff" stroke-width="1.1" fill="none" stroke-linejoin="miter"/>
<line x1="898" y1="576" x2="912.7" y2="576" stroke="#ff1010" stroke-width="1"/>
<line x1="912.7" y1="576" x2="955.2" y2="576" stroke="#8b1250" stroke-width="1"/>
<line x1="955.2" y1="576" x2="998.5" y2="576" stroke="#ff1010" stroke-width="1"/>
<circle cx="767.3" cy="576" r="3" fill="#ff00ff"/>
<circle cx="955.2" cy="576" r="3" fill="#ff00ff"/>
<text x="839.5" y="572" font-size="12" fill="#000" text-anchor="middle" xml:space="preserve">1</text>
<text x="912.7" y="572" font-size="12" fill="#000" text-anchor="middle" xml:space="preserve">2</text>
<text x="984.2" y="572" font-size="12" fill="#000" text-anchor="middle" xml:space="preserve">2</text>
<text x="878.5" y="545.3" font-size="12" fill="#000080" text-anchor="middle" xml:space="preserve">PR271</text>
<text x="880" y="560" font-size="12" fill="#000080" text-anchor="middle" xml:space="preserve">0_0201_5%</text>
<path d="M681.7,569.3 L690,576.2 L681.7,583.4 M687.5,569.3 L696,576.2 L687.5,583.4" stroke="#ff1010" stroke-width="1.1" fill="none" />
<text x="486.5" y="581.8" font-size="12" fill="#ff1a1a" text-anchor="start" xml:space="preserve">&lt;59&gt;</text>
<text x="530" y="581.8" font-size="12.5" fill="#ff1a1a" text-anchor="start" xml:space="preserve">ALW_PWRGD_3V_5V</text>
<line x1="955.2" y1="576" x2="955.2" y2="604.8" stroke="#8b1250" stroke-width="1"/>
<line x1="955.2" y1="604.8" x2="955.2" y2="621.5" stroke="#ff1010" stroke-width="1"/>
<line x1="942.7" y1="621.5" x2="969" y2="621.5" stroke="#0000ff" stroke-width="1.2"/>
<line x1="942.7" y1="629.8" x2="969" y2="629.8" stroke="#0000ff" stroke-width="1.2"/>
<line x1="955.2" y1="629.8" x2="955.2" y2="648.3" stroke="#ff1010" stroke-width="1"/>
<line x1="955.2" y1="648.3" x2="955.2" y2="676.9" stroke="#8b1250" stroke-width="1"/>
<polyline points="940.7,676.9 969.7,676.9 955.2,691.4 940.7,676.9" stroke="#ff1010" stroke-width="1" fill="none" stroke-linejoin="miter"/>
<text x="951.5" y="604.8" font-size="12" fill="#000" text-anchor="middle" transform="rotate(-90 951.5 604.8)" xml:space="preserve">1</text>
<text x="951.5" y="646" font-size="12" fill="#000" text-anchor="middle" transform="rotate(-90 951.5 646)" xml:space="preserve">2</text>
<text x="924.5" y="625.5" font-size="13.2" fill="#000080" text-anchor="middle" transform="rotate(-90 924.5 625.5)" xml:space="preserve">PC221</text>
<text x="940" y="644" font-size="13.8" fill="#000080" text-anchor="middle" transform="rotate(-90 940 644)" xml:space="preserve">0.1U_0201_10V6K</text>
<line x1="696.3" y1="331" x2="696.3" y2="388.3" stroke="#8b1250" stroke-width="1"/>
<line x1="696.3" y1="388.3" x2="696.3" y2="403.2" stroke="#ff1010" stroke-width="1"/>
<rect x="677.9" y="403.2" width="33.1" height="28.8" fill="none" stroke="#f5a030" stroke-width="1.3"/>
<line x1="672.4" y1="413.9" x2="684.3" y2="413.9" stroke="#f5a030" stroke-width="1.2"/>
<polygon points="672.4,422.6 684.3,422.6 678.3,413.9" fill="#f5a030" stroke="#f5a030" stroke-width="0.5"/>
<path d="M696.3,432 V417.9 H704" stroke="#f5a030" stroke-width="1.2" fill="none" />
<polygon points="703.9,411.5 703.9,425 711,418.2" fill="#f5a030" stroke="#f5a030" stroke-width="0.5"/>
<line x1="718" y1="403.2" x2="718" y2="432" stroke="#f5a030" stroke-width="1.3"/>
<polygon points="724,417.4 729.9,413.9 729.9,421" fill="#ff1010" stroke="#ff1010" stroke-width="0.5"/>
<line x1="729.9" y1="417.4" x2="739.3" y2="417.4" stroke="#ff1010" stroke-width="1"/>
<line x1="739.3" y1="417.4" x2="768.4" y2="417.4" stroke="#8b1250" stroke-width="1"/>
<line x1="768.4" y1="417.4" x2="768.4" y2="460.4" stroke="#8b1250" stroke-width="1"/>
<line x1="768.4" y1="460.4" x2="768.4" y2="475.8" stroke="#ff1010" stroke-width="1"/>
<polyline points="768.4,475.8 772.9,480.4 763.9,489.1 772.9,497.5 763.9,506.5 772.9,515 768.4,518.8" stroke="#f5a030" stroke-width="1.1" fill="none" stroke-linejoin="miter"/>
<line x1="768.4" y1="518.8" x2="768.4" y2="532" stroke="#ff1010" stroke-width="1"/>
<line x1="768.4" y1="532" x2="768.4" y2="576" stroke="#8b1250" stroke-width="1"/>
<line x1="696.3" y1="432" x2="696.3" y2="446.2" stroke="#ff1010" stroke-width="1"/>
<line x1="696.3" y1="446.2" x2="696.3" y2="503.6" stroke="#8b1250" stroke-width="1"/>
<polyline points="681.8,503.6 710.8,503.6 696.3,518.1 681.8,503.6" stroke="#ff1010" stroke-width="1" fill="none" stroke-linejoin="miter"/>
<text x="692.5" y="390.7" font-size="12" fill="#000" text-anchor="middle" transform="rotate(-90 692.5 390.7)" xml:space="preserve">1</text>
<text x="692.5" y="446.2" font-size="12" fill="#000" text-anchor="middle" transform="rotate(-90 692.5 446.2)" xml:space="preserve">3</text>
<text x="739.3" y="413.2" font-size="12" fill="#000" text-anchor="middle" xml:space="preserve">2</text>
<text x="688" y="397" font-size="9" fill="#f8b060" text-anchor="middle" xml:space="preserve">D</text>
<text x="733.5" y="431.5" font-size="9" fill="#f8b060" text-anchor="middle" xml:space="preserve">G</text>
<text x="690" y="444" font-size="9" fill="#f8b060" text-anchor="middle" transform="rotate(-90 690 444)" xml:space="preserve">S</text>
<text x="652" y="415.5" font-size="13.2" fill="#000080" text-anchor="middle" transform="rotate(-90 652 415.5)" xml:space="preserve"><tspan fill="#000">@</tspan>PQ225</text>
<text x="665.4" y="437.6" font-size="13.5" fill="#000080" text-anchor="middle" transform="rotate(-90 665.4 437.6)" xml:space="preserve">DMN65D8LW-7_SOT323-3</text>
<text x="765" y="461.6" font-size="12" fill="#000" text-anchor="middle" transform="rotate(-90 765 461.6)" xml:space="preserve">1</text>
<text x="765" y="531.3" font-size="12" fill="#000" text-anchor="middle" transform="rotate(-90 765 531.3)" xml:space="preserve">2</text>
<text x="742" y="505" font-size="13.2" fill="#000080" text-anchor="middle" transform="rotate(-90 742 505)" xml:space="preserve"><tspan fill="#000">@</tspan>PR295</text>
<text x="752.5" y="502.5" font-size="13.2" fill="#000080" text-anchor="middle" transform="rotate(-90 752.5 502.5)" xml:space="preserve">0_0201_5%</text>
<rect x="1326.05" y="180.85" width="93.9" height="49" rx="4" ry="4" fill="#fff" stroke="#fb4146" stroke-width="3.7" filter="url(#sh)"/>
<text x="1370.7" y="212.1" font-size="19" fill="#000" text-anchor="middle" xml:space="preserve">1</text>
<rect x="892.05" y="251.05" width="87.9" height="53.8" rx="4" ry="4" fill="#fff" stroke="#fb4146" stroke-width="3.7" filter="url(#sh)"/>
<text x="934.5" y="284.1" font-size="19" fill="#000" text-anchor="middle" xml:space="preserve">2</text>
<rect x="555.95" y="645.85" width="96" height="52.3" rx="4" ry="4" fill="#fff" stroke="#fb4146" stroke-width="3.7" filter="url(#sh)"/>
<text x="602.5" y="677.8" font-size="19" fill="#000" text-anchor="middle" xml:space="preserve">3</text>
<g filter="url(#sh)"><line x1="1381" y1="266" x2="1383.02" y2="298.35" stroke="#fb4146" stroke-width="9" stroke-linecap="round"/><polygon points="1384.7,325.3 1368.17,297.27 1397.62,295.44" fill="#fb4146"/></g>
<g filter="url(#sh)"><line x1="995.6" y1="267" x2="1012.27" y2="286.14" stroke="#fb4146" stroke-width="9" stroke-linecap="round"/><polygon points="1030,306.5 999.83,294.32 1022.08,274.94" fill="#fb4146"/></g>
<g filter="url(#sh)"><line x1="698.4" y1="668" x2="808.85" y2="607.22" stroke="#fb4146" stroke-width="9" stroke-linecap="round"/><polygon points="832.5,594.2 814.2,621.1 799.98,595.26" fill="#fb4146"/></g>
</svg>
</body></html>
